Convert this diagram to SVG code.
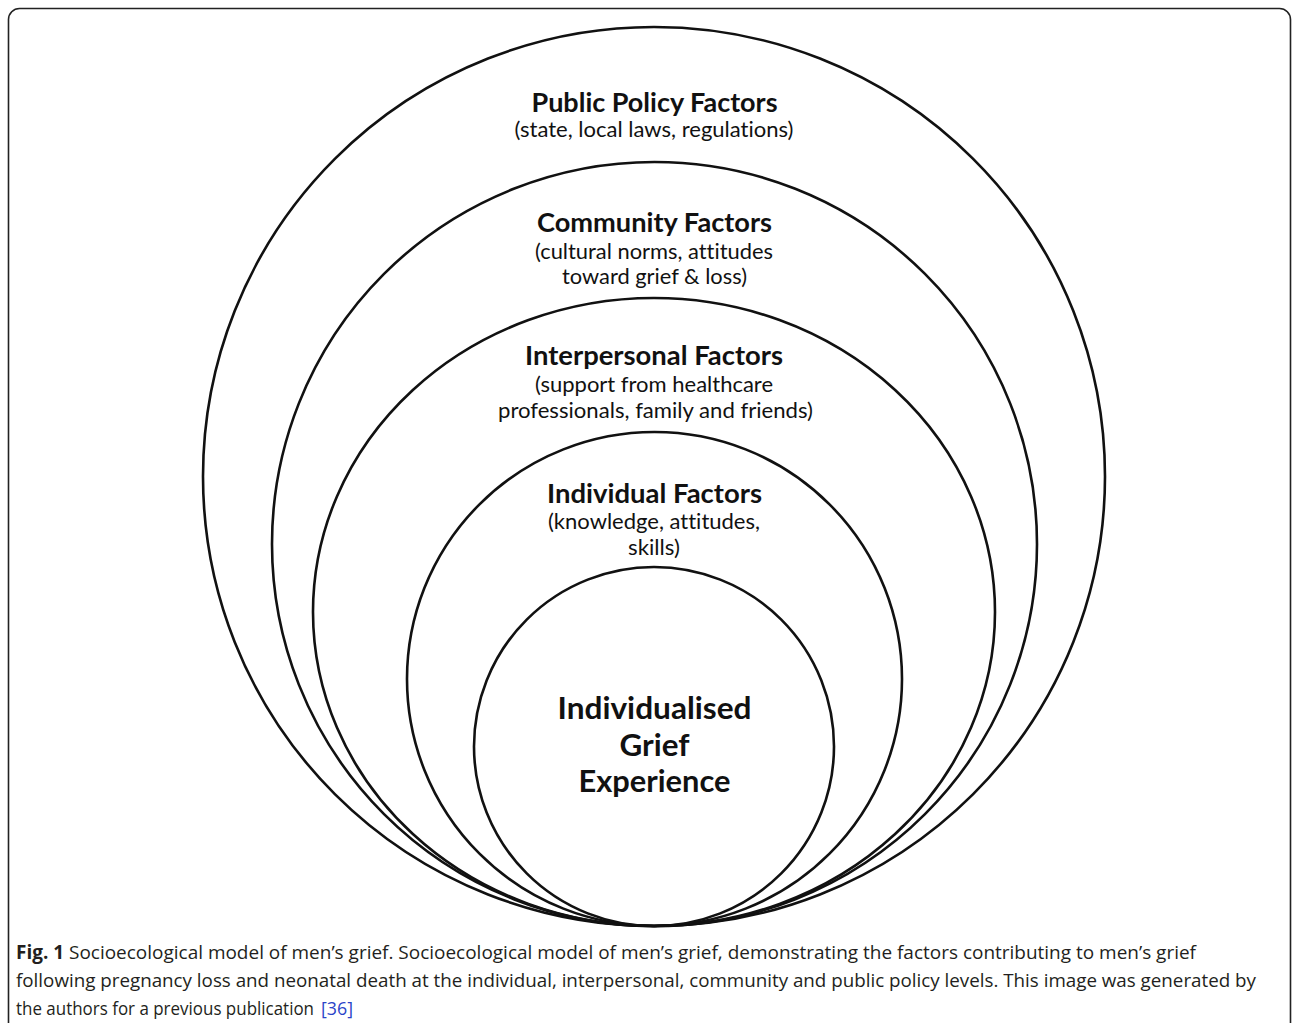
<svg xmlns="http://www.w3.org/2000/svg" width="1292" height="1023" viewBox="0 0 1292 1023">
<style>
text{font-variant-ligatures:none}
.ring{fill:none;stroke:#111;stroke-width:2.6}
.h{font-family:Lato,"Open Sans","Liberation Sans",sans-serif;font-weight:bold;font-size:26px;fill:#111;text-anchor:middle}
.g{font-size:30px}
.s{font-family:Lato,"Open Sans","Liberation Sans",sans-serif;font-size:21.5px;fill:#111;text-anchor:middle}
.c{font-family:"Open Sans","Noto Sans","Liberation Sans",sans-serif;font-size:19px;fill:#231f20}
.ref{fill:#2a44c8}
</style>
<rect x="8.5" y="8.5" width="1282" height="1060" rx="11" fill="#fff" stroke="#222" stroke-width="1.6"/>
<g id="public-policy">
<ellipse class="ring" cx="654" cy="476.5" rx="451" ry="449.5"/>
<text class="h" x="654.5" y="112" textLength="246" lengthAdjust="spacingAndGlyphs">Public Policy Factors</text>
<text class="s" x="654" y="137" textLength="279" lengthAdjust="spacingAndGlyphs">(state, local laws, regulations)</text>
</g>
<g id="community">
<ellipse class="ring" cx="654.5" cy="544" rx="382.5" ry="382"/>
<text class="h" x="654.5" y="232" textLength="235" lengthAdjust="spacingAndGlyphs">Community Factors</text>
<text class="s" x="654" y="259" textLength="238" lengthAdjust="spacingAndGlyphs">(cultural norms, attitudes</text>
<text class="s" x="654.5" y="284" textLength="185" lengthAdjust="spacingAndGlyphs">toward grief &amp; loss)</text>
</g>
<g id="interpersonal">
<ellipse class="ring" cx="654" cy="612" rx="341" ry="314"/>
<text class="h" x="654" y="365" textLength="258" lengthAdjust="spacingAndGlyphs">Interpersonal Factors</text>
<text class="s" x="654" y="392" textLength="238" lengthAdjust="spacingAndGlyphs">(support from healthcare</text>
<text class="s" x="655.5" y="418" textLength="315" lengthAdjust="spacingAndGlyphs">professionals, family and friends)</text>
</g>
<g id="individual">
<ellipse class="ring" cx="654.5" cy="679" rx="247.5" ry="247"/>
<text class="h" x="654.5" y="503" textLength="215" lengthAdjust="spacingAndGlyphs">Individual Factors</text>
<text class="s" x="654" y="529" textLength="212" lengthAdjust="spacingAndGlyphs">(knowledge, attitudes,</text>
<text class="s" x="654" y="554.5" textLength="52" lengthAdjust="spacingAndGlyphs">skills)</text>
</g>
<g id="grief-experience">
<ellipse class="ring" cx="654" cy="746.5" rx="180" ry="179.5"/>
<text class="h g" x="654.5" y="719" textLength="194" lengthAdjust="spacingAndGlyphs">Individualised</text>
<text class="h g" x="654.5" y="756" textLength="70" lengthAdjust="spacingAndGlyphs">Grief</text>
<text class="h g" x="654.5" y="792" textLength="152" lengthAdjust="spacingAndGlyphs">Experience</text>
</g>
<g id="caption">
<text class="c" x="16" y="959" textLength="1180" lengthAdjust="spacingAndGlyphs"><tspan font-weight="bold">Fig. 1</tspan> Socioecological model of men’s grief. Socioecological model of men’s grief, demonstrating the factors contributing to men’s grief</text>
<text class="c" x="16" y="987" textLength="1240" lengthAdjust="spacingAndGlyphs">following pregnancy loss and neonatal death at the individual, interpersonal, community and public policy levels. This image was generated by</text>
<text class="c" x="16" y="1015" textLength="298" lengthAdjust="spacingAndGlyphs">the authors for a previous publication</text>
<text class="c ref" x="321" y="1015" textLength="32" lengthAdjust="spacingAndGlyphs">[36]</text>
</g>
</svg>
